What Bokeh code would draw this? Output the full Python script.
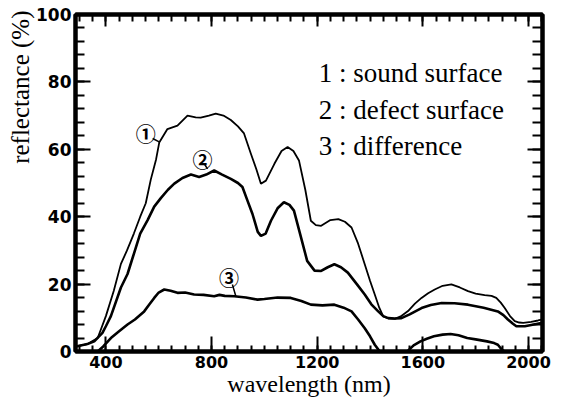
from bokeh.plotting import figure
from bokeh.models import LinearAxis, Range1d, FixedTicker, Title
from bokeh.core.properties import value
from bokeh.embed import file_html
from bokeh.resources import INLINE

# ---- data ----
wl_sound = [287, 330, 369, 400, 430, 457, 480, 506, 530, 551, 570, 590, 602, 633, 671, 709, 740, 759,
            790, 816, 845, 873, 900, 923, 949, 970, 987, 1006, 1038, 1065, 1088, 1110, 1131, 1155,
            1176, 1195, 1215, 1250, 1280, 1305, 1330, 1355, 1380, 1400, 1418, 1435, 1450, 1470, 1494,
            1516, 1544, 1570, 1595, 1620, 1645, 1675, 1708, 1740, 1771, 1800, 1834, 1860, 1878, 1895,
            1910, 1930, 1948, 1965, 1980, 2010, 2036, 2053]
r_sound = [1.5, 2.2, 4, 10.5, 18, 26, 30, 35, 40, 44, 51, 57, 62, 66, 67, 70, 69.5, 69.4,
           70, 70.6, 70, 68.7, 66.8, 64.7, 58.7, 54, 49.8, 50.7, 55.7, 59.5, 60.7, 59.5, 56.7, 48,
           38.8, 37.5, 37.3, 39, 39.3, 38.5, 36.8, 32, 25.9, 21, 16.9, 13, 10.4, 9.8, 9.7,
           10.4, 12, 14.2, 15.9, 17.3, 18.4, 19.5, 19.9, 19, 17.9, 17.2, 16.7, 16.5, 15.9, 14.5,
           12.9, 10.5, 9.0, 8.6, 8.5, 8.8, 9.2, 9.5]

wl_defect = [287, 330, 356, 387, 400, 419, 457, 482, 506, 530, 558, 583, 608, 635, 659, 690, 722, 753,
             780, 810, 840, 873, 900, 917, 935, 955, 975, 987, 1005, 1025, 1050, 1074, 1095, 1112,
             1135, 1162, 1190, 1215, 1240, 1265, 1290, 1316, 1350, 1380, 1405, 1431, 1450, 1469,
             1494, 1519, 1550, 1595, 1630, 1671, 1720, 1771, 1830, 1884, 1905, 1922, 1940, 1954,
             1986, 2020, 2053]
r_defect = [1.5, 2.2, 3, 5.5, 7.5, 10.5, 19, 23, 29, 35, 39, 43, 45.5, 48, 49.8, 51.5, 52.5, 51.8,
            52.5, 53.7, 52.5, 51.2, 50, 48.8, 45, 40.8, 35.5, 34.3, 35, 38.8, 42.5, 44.3, 43.5, 41.8,
            35, 26.9, 24, 23.9, 25, 25.9, 25, 23.4, 20, 16.9, 14, 11.9, 10.5, 9.9,
            9.8, 9.9, 11, 12.9, 13.8, 14.4, 14.3, 13.9, 13, 11.9, 10.8, 9.5, 8.3, 7.5,
            7.5, 8, 8.5]

wl_diff = [369, 390, 419, 450, 482, 510, 545, 565, 583, 600, 621, 645, 671, 700, 734, 770, 810, 830,
           850, 886, 930, 974, 1000, 1050, 1100, 1140, 1176, 1220, 1265, 1300, 1330, 1355, 1380,
           1400, 1418, 1437, 1541, 1565, 1591, 1615, 1642, 1675, 1705, 1735, 1768, 1800, 1843,
           1870, 1884, 1900, 1910]
r_diff = [0, 1.5, 4, 6, 8, 9.5, 11.9, 14, 15.9, 17.5, 18.4, 18, 17.4, 17.5, 16.9, 16.8, 16.4, 16.8,
          16.5, 16.4, 16, 15.4, 15.6, 16, 15.9, 15, 13.9, 13.7, 13.9, 13, 11.9, 9.5, 6.9,
          4.5, 2, 0, 0, 1.8, 3, 3.8, 4.5, 5, 5.2, 4.8, 4, 3.6, 3,
          2.5, 2, 0.5, 0]

x_ticks = [400, 800, 1200, 1600, 2000]
y_ticks = [0, 20, 40, 60, 80, 100]

x_title = "wavelength (nm)"
y_title = "reflectance (%)"

legend_text = ["1 : sound surface", "2 : defect surface", "3 : difference"]
legend_x = [1206, 1206, 1206]
legend_y = [82.7, 71.6, 60.9]

tag_text = ["\u2460", "\u2461", "\u2462"]
tag_x = [551, 766, 866]
tag_y = [64.7, 56.9, 21.9]
lead_x0 = [577, 774, 879]
lead_y0 = [63.2, 55.5, 19.9]
lead_x1 = [602, 785, 892]
lead_y1 = [62.2, 54.2, 16.4]

# ---- figure ----
p = figure(width=569, height=405, x_range=Range1d(285, 2053), y_range=Range1d(0, 100),
           output_backend="svg", toolbar_location=None,
           min_border_left=75, min_border_right=27, min_border_top=14, min_border_bottom=54,
           x_axis_label=x_title)
p.grid.visible = False
p.outline_line_color = "black"
p.outline_line_width = 4
p.background_fill_color = "white"
p.border_fill_color = "white"

x_minor = list(range(300, 2051, 50))
y_minor = list(range(0, 101, 4))


def style_axis(ax, major_in, minor_in):
    ax.axis_line_width = 4
    ax.axis_line_color = "black"
    ax.major_tick_in = major_in
    ax.major_tick_out = 0
    ax.minor_tick_in = minor_in
    ax.minor_tick_out = 0
    ax.major_tick_line_width = 2
    ax.minor_tick_line_width = 2
    ax.major_tick_line_color = "black"
    ax.minor_tick_line_color = "black"


xa = p.xaxis[0]
xa.ticker = FixedTicker(ticks=x_ticks, minor_ticks=x_minor)
style_axis(xa, 15, 6)
xa.major_label_text_font = "DejaVu Sans"
xa.major_label_text_font_style = "bold"
xa.major_label_text_font_size = "16px"
xa.major_label_text_color = "black"
xa.major_label_standoff = 4
xa.axis_label_text_font = "Liberation Serif"
xa.axis_label_text_font_style = "normal"
xa.axis_label_text_font_size = "24px"
xa.axis_label_text_color = "black"
xa.axis_label_standoff = 0

ya = p.yaxis[0]
ya.ticker = FixedTicker(ticks=y_ticks, minor_ticks=y_minor)
style_axis(ya, 15, 9)
ya.major_label_text_font = "DejaVu Sans"
ya.major_label_text_font_style = "bold"
ya.major_label_text_font_size = "17px"
ya.major_label_text_color = "black"
ya.major_label_standoff = 4

# y-axis title in the left border, aligned to the top as in the reference
p.add_layout(Title(text=y_title, align="right", text_font="Liberation Serif",
                   text_font_size="25px", text_font_style="normal", text_color="black",
                   standoff=0, offset=-4), "left")

top = LinearAxis(ticker=FixedTicker(ticks=x_ticks, minor_ticks=x_minor),
                 major_label_overrides={t: "" for t in x_ticks},
                 major_label_text_font_size="1px", major_label_standoff=0)
style_axis(top, 12, 7)
p.add_layout(top, "above")

right = LinearAxis(ticker=FixedTicker(ticks=y_ticks, minor_ticks=y_minor),
                   major_label_overrides={t: "" for t in y_ticks},
                   major_label_text_font_size="1px", major_label_standoff=0)
style_axis(right, 15, 10)
p.add_layout(right, "right")

# ---- curves ----
p.line(wl_sound, r_sound, line_color="black", line_width=1.8)
p.line(wl_defect, r_defect, line_color="black", line_width=2.6)
p.line(wl_diff, r_diff, line_color="black", line_width=2.6)

# ---- curve tags ----
p.segment(x0=lead_x0, y0=lead_y0, x1=lead_x1, y1=lead_y1, line_color="black", line_width=1.5)
p.text(x=tag_x, y=tag_y, text=tag_text, text_align="center", text_baseline="middle",
       text_font=value("Noto Sans CJK JP"), text_font_size="20px", text_font_style="bold",
       text_color="black")

# ---- legend text ----
p.text(x=legend_x, y=legend_y, text=legend_text, text_align="left", text_baseline="alphabetic",
       text_font=value("Liberation Serif"), text_font_size="27px", text_color="black")

open("out.html", "w").write(file_html(p, INLINE))
